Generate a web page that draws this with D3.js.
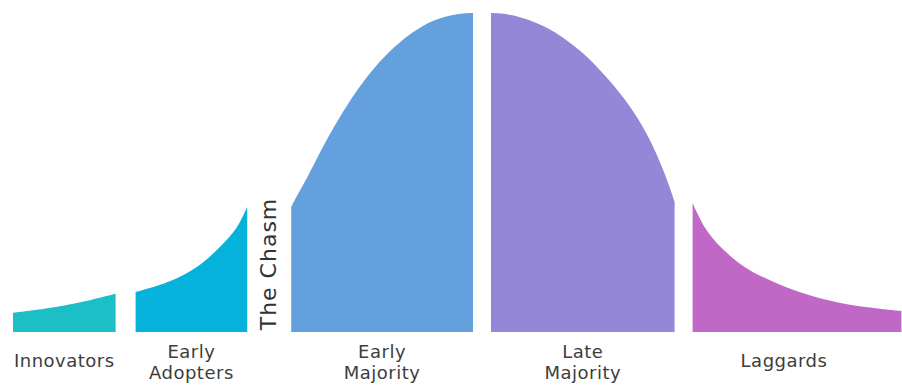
<!DOCTYPE html>
<html>
<head>
<meta charset="utf-8">
<script src="https://cdn.jsdelivr.net/npm/d3@7"></script>
<style>
  html, body { margin: 0; padding: 0; background: #fff; }
  svg { display: block; }
</style>
</head>
<body>
<div id="chart"></div>
<script>
'use strict';

// adopter groups, left to right
var categories = ["Innovators", "Early Adopters", "Early Majority", "Late Majority", "Laggards"];
var labelLines = [["Innovators"], ["Early", "Adopters"], ["Early", "Majority"], ["Late", "Majority"], ["Laggards"]];
var colors = ["#1bbfc5", "#05b2dc", "#63a0dd", "#9487d8", "#c068c5"];

// curve: [position in std devs from the mean, height in % of peak]
var innovators = [[-2.2, 6.0], [-2.0, 7.5], [-1.82, 9.4], [-1.63, 12.0]];
var earlyAdopters = [[-1.63, 12.5], [-1.44, 15.9], [-1.29, 20.4], [-1.17, 26.2], [-1.07, 32.6], [-1.01, 39.2]];
var earlyMajority = [[-1.01, 39.2], [-0.99, 41.4], [-0.92, 48.6], [-0.83, 58.4], [-0.72, 69.2], [-0.61, 78.4],
  [-0.49, 86.4], [-0.34, 93.7], [-0.22, 97.6], [-0.08, 99.7], [0, 100]];
var lateMajority = [[0, 100], [0.12, 99.3], [0.31, 95.4], [0.49, 88.4], [0.64, 79.9], [0.77, 70.8],
  [0.86, 62.6], [0.93, 54.4], [0.99, 45.8], [1.02, 40.8]];
var laggards = [[1.02, 40.4], [1.09, 32.6], [1.18, 26.4], [1.32, 20.0], [1.5, 15.0], [1.68, 11.4],
  [1.87, 8.8], [2.06, 7.3], [2.18, 6.6]];

var chasmLabel = "The Chasm";

function adoptionCurve() {

  var scope = this;
  var exports = {};

  scope.width = 902;
  scope.height = 386;
  scope.margins = { top: 13, left: 13, baseline: 332 };

  // white gaps pushed in before each group (the chasm is the big one)
  scope.gaps = [0, 20, 64, 82, 100];
  scope.labelShift = [0, 0, 0, 0, -13];

  scope.xScale = d3.scaleLinear().domain([-2.2, 2.2]).range([scope.margins.left, scope.margins.left + 792]);
  scope.yScale = d3.scaleLinear().domain([0, 100]).range([scope.margins.baseline, scope.margins.top]);

  scope.series = [innovators, earlyAdopters, earlyMajority, lateMajority, laggards];

  scope.area = function(i) {
    return d3.area()
      .x(function(d) { return scope.xScale(d[0]) + scope.gaps[i]; })
      .y0(scope.yScale(0))
      .y1(function(d) { return scope.yScale(d[1]); })
      .curve(d3.curveCatmullRom.alpha(0.5));
  }

  exports.run = function(DOMObj) {

    var svg = d3.select(DOMObj).append("svg")
      .attr("width", scope.width)
      .attr("height", scope.height);

    var groups = svg.selectAll(".group")
      .data(scope.series)
      .enter()
      .append("g")
      .attr("class", "group");

    groups.append("path")
      .attr("d", function(d, i) { return scope.area(i)(d); })
      .style("fill", function(d, i) { return colors[i]; });

    var label = groups.append("text")
      .attr("text-anchor", "middle")
      .style("font-family", "'DejaVu Sans', sans-serif")
      .style("font-size", "18px")
      .style("letter-spacing", "0.5px")
      .style("fill", "#3d3d3d")
      .attr("transform", function(d, i) {
        var ext = d3.extent(d, function(p) { return p[0]; });
        var cx = (scope.xScale(ext[0]) + scope.xScale(ext[1])) / 2 + scope.gaps[i] + scope.labelShift[i];
        var cy = labelLines[i].length > 1 ? 358 : 367;
        return "translate(" + cx + "," + cy + ")";
      })
      .attr("aria-label", function(d, i) { return categories[i]; });

    label.selectAll("tspan")
      .data(function(d, i) { return labelLines[i]; })
      .enter()
      .append("tspan")
      .attr("x", 0)
      .attr("dy", function(d, j) { return j === 0 ? 0 : 21; })
      .text(function(d) { return d; });

    // chasm label sits in the gap between early adopters and early majority
    var chasmX = (scope.xScale(earlyAdopters[earlyAdopters.length - 1][0]) + scope.gaps[1] +
      scope.xScale(earlyMajority[0][0]) + scope.gaps[2]) / 2;

    svg.append("text")
      .attr("transform", "translate(" + (chasmX + 7) + ",264) rotate(-90)")
      .attr("text-anchor", "middle")
      .style("font-family", "'DejaVu Sans', sans-serif")
      .style("font-size", "22px")
      .style("letter-spacing", "1px")
      .style("fill", "#333")
      .text(chasmLabel);
  }

  return exports;
}

adoptionCurve.call({}).run(document.getElementById("chart"));
</script>
</body>
</html>
